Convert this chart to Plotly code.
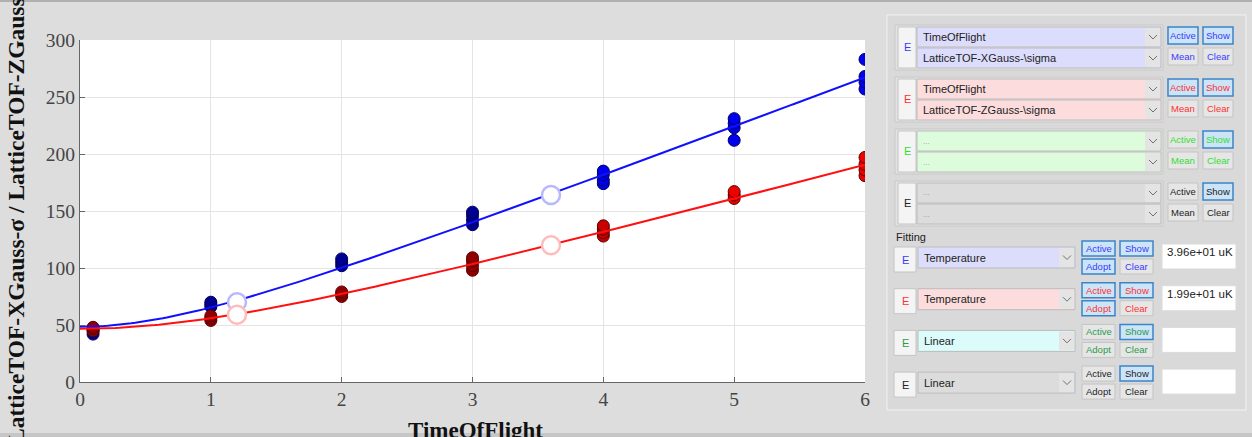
import numpy as np
import plotly.graph_objects as go

# ---- measured cloud widths vs. time of flight ----
tof_x = [0.1, 0.1, 1, 1, 1, 2, 2, 2, 3, 3, 3, 3, 4, 4, 4, 4, 5, 5, 5, 5, 6, 6, 6, 6]
sigma_x = [42, 45, 66, 68, 70, 102, 105, 108, 138, 142, 146, 149,
           174, 177, 182, 185, 212, 223, 227, 231, 257, 263, 268, 283]

tof_z = [0.1, 0.1, 0.1, 1, 1, 1, 2, 2, 2, 3, 3, 3, 3, 4, 4, 4, 4, 5, 5, 5, 6, 6, 6, 6]
sigma_z = [45, 47, 48, 54, 56, 58, 75, 77, 79, 98, 102, 106, 109,
           128, 131, 134, 137, 161, 164, 167, 181, 186, 191, 197]

# mean markers (hollow circles)
mean_t = [1.2, 3.6]
mean_x = [70, 164]
mean_z = [59, 120]

x_ticks = [0, 1, 2, 3, 4, 5, 6]
y_ticks = [0, 50, 100, 150, 200, 250, 300]

temp_labels = ["3.96e+01 uK", "1.99e+01 uK"]


def tof_fit(t, s):
    """Fit sigma(t) = sqrt(s0^2 + v^2 t^2), residuals weighted in sigma."""
    t = np.asarray(t, float)
    s = np.asarray(s, float)
    A = np.vstack([np.ones_like(t), t ** 2]).T / s[:, None]
    (a, b), *_ = np.linalg.lstsq(A, s, rcond=None)
    tt = np.linspace(0, 6, 200)
    return tt, np.sqrt(a + b * tt ** 2)


fit_tx, fit_sx = tof_fit(tof_x, sigma_x)
fit_tz, fit_sz = tof_fit(tof_z, sigma_z)


def blue_fill(t):
    return "#000090" if t < 3.5 else "#0000ee"


def red_fill(t):
    if t < 3.5:
        return "#900000"
    return "#c80000" if t < 4.5 else "#ee0000"


fig = go.Figure()
fig.add_trace(go.Scatter(
    x=tof_x, y=sigma_x, mode="markers",
    marker=dict(size=12, color=[blue_fill(t) for t in tof_x],
                line=dict(color="#00005a", width=1)),
))
fig.add_trace(go.Scatter(
    x=tof_z, y=sigma_z, mode="markers",
    marker=dict(size=12, color=[red_fill(t) for t in tof_z],
                line=dict(color="#5a0000", width=1)),
))
fig.add_trace(go.Scatter(x=fit_tx, y=fit_sx, mode="lines",
                         line=dict(color="#1010ff", width=2)))
fig.add_trace(go.Scatter(x=fit_tz, y=fit_sz, mode="lines",
                         line=dict(color="#ff1010", width=2)))
fig.add_trace(go.Scatter(
    x=mean_t, y=mean_x, mode="markers",
    marker=dict(size=18, color="white", line=dict(color="#b8b8ff", width=2.5)),
))
fig.add_trace(go.Scatter(
    x=mean_t, y=mean_z, mode="markers",
    marker=dict(size=18, color="white", line=dict(color="#ffbcbc", width=2.5)),
))

# ---- pixel helpers for the control panel ----
PL, PR, PT, PB = 80, 865, 40, 382


def fx(X):
    return (X - PL) / (PR - PL)


def fy(Y):
    return (PB - Y) / (PB - PT)


shapes = []
annots = []
UI_FONT = "Liberation Sans"


def rect(x0, y0, x1, y1, fill, line="#b4b4b4", lw=1):
    shapes.append(dict(type="rect", xref="paper", yref="paper",
                       x0=fx(x0), x1=fx(x1), y0=fy(y1), y1=fy(y0),
                       fillcolor=fill, line=dict(color=line, width=lw),
                       layer="above"))


def text(x, y, s, size=11, color="#222", xanchor="left", family=UI_FONT):
    annots.append(dict(x=fx(x), y=fy(y), xref="paper", yref="paper",
                       text=s, showarrow=False, xanchor=xanchor,
                       yanchor="middle",
                       font=dict(family=family, size=size, color=color)))


def chevron(cx, cy):
    shapes.append(dict(type="path", xref="paper", yref="paper",
                       path=f"M {fx(cx-4)},{fy(cy-2)} L {fx(cx)},{fy(cy+2)} L {fx(cx+4)},{fy(cy-2)}",
                       line=dict(color="#707070", width=1), layer="above"))


def button(x0, y0, x1, y1, label, color, pressed):
    if pressed:
        rect(x0, y0, x1, y1, "#cce4f7", "#3c84c8", 1.5)
    else:
        rect(x0, y0, x1, y1, "#e6e6e6", "#c4c4c4", 1)
    text((x0 + x1) / 2, (y0 + y1) / 2, label, 9.5, color, "center")


def dropdown(x0, y0, x1, y1, fill, label, lcolor="#222", lsize=11):
    rect(x0, y0, x1, y1, fill, "#bcbcbc", 1)
    rect(x1 - 16, y0 + 1, x1 - 1, y1 - 1, "#e4e4e4", "#e4e4e4", 0)
    chevron(x1 - 8, (y0 + y1) / 2)
    text(x0 + 4, (y0 + y1) / 2, label, lsize, lcolor)


# window frame lines
rect(0, 0, 1252, 2, "#b0b0b0", "#b0b0b0", 0)
rect(0, 433, 1252, 437, "#c6c6c6", "#c6c6c6", 0)

# panel
rect(887, 15, 1246, 410, "#d9d9d9", "#f2f2f2", 1)

# data selection rows
rows = [
    ("#dcdcfc", "#3a3aff", ["TimeOfFlight", "LatticeTOF-XGauss-\\sigma"], True),
    ("#fcdcdc", "#ff3030", ["TimeOfFlight", "LatticeTOF-ZGauss-\\sigma"], True),
    ("#dcfcdc", "#30e030", ["...", "..."], False),
    ("#dcdcdc", "#222222", ["...", "..."], False),
]
for i, (fill, col, labels, active) in enumerate(rows):
    top = 27 + 52 * i
    rect(895, top - 2, 1163, top + 43, "#e2e2e2", "#c8c8c8", 1)
    rect(898, top, 916, top + 41, "#f4f4f4", "#c4c4c4", 1)
    text(907, top + 20, "E", 11, col, "center")
    for j, lab in enumerate(labels):
        y0 = top + 21 * j
        if lab == "...":
            dropdown(917, y0, 1161, y0 + 20, fill, lab, "#999", 8)
        else:
            dropdown(917, y0, 1161, y0 + 20, fill, lab)
    button(1168, top, 1198, top + 17, "Active", col, active)
    button(1203, top, 1233, top + 17, "Show", col, True)
    button(1168, top + 21, 1198, top + 38, "Mean", col, False)
    button(1203, top + 21, 1233, top + 38, "Clear", col, False)

text(894, 237, "Fitting", 11, "#222")

fit_rows = [
    ("#dcdcfc", "#3a3aff", "Temperature", True, temp_labels[0]),
    ("#fcdcdc", "#ff3030", "Temperature", True, temp_labels[1]),
    ("#dcfcfc", "#2a9a4a", "Linear", False, ""),
    ("#dcdcdc", "#222222", "Linear", False, ""),
]
for i, (fill, col, lab, active, val) in enumerate(fit_rows):
    top = 247 + 41.7 * i
    rect(894, top, 916, top + 25, "#f4f4f4", "#c4c4c4", 1)
    text(905, top + 12.5, "E", 11, col, "center")
    dropdown(918, top, 1075, top + 21, fill, lab)
    button(1082, top - 6, 1115, top + 9, "Active", col, active)
    button(1082, top + 12, 1115, top + 27, "Adopt", col, active)
    button(1120, top - 6, 1153, top + 9, "Show", col, True)
    button(1120, top + 12, 1153, top + 27, "Clear", col, False)
    rect(1162, top - 3, 1236, top + 22, "white", "#dadada", 1)
    if val:
        text(1165, top + 5, val, 11.5, "#222")

# axis titles
annots.append(dict(x=fx(16), y=fy(211), xref="paper", yref="paper",
                   text="<b>LatticeTOF-XGauss-σ / LatticeTOF-ZGauss-σ</b>",
                   textangle=-90, showarrow=False, xanchor="center", yanchor="middle",
                   font=dict(family="Liberation Serif", size=23.5, color="#111")))
annots.append(dict(x=fx(475), y=fy(430), xref="paper", yref="paper",
                   text="<b>TimeOfFlight</b>", showarrow=False,
                   xanchor="center", yanchor="middle",
                   font=dict(family="Liberation Serif", size=23, color="#111")))

axis_common = dict(
    ticks="inside", ticklen=5, tickcolor="#666", showline=True,
    linecolor="#666", linewidth=1, showgrid=True, gridcolor="#e4e4e4",
    zeroline=False, automargin=False,
    tickfont=dict(family="Liberation Serif", size=19.5, color="#444"),
)

fig.update_layout(
    width=1252, height=437,
    margin=dict(l=80, r=387, t=40, b=55),
    paper_bgcolor="#dddddd", plot_bgcolor="white",
    showlegend=False,
    xaxis=dict(range=[0, 6], tickvals=x_ticks, **axis_common),
    yaxis=dict(range=[0, 300], tickvals=y_ticks, **axis_common),
    shapes=shapes, annotations=annots,
)

fig.write_html("out.html")
